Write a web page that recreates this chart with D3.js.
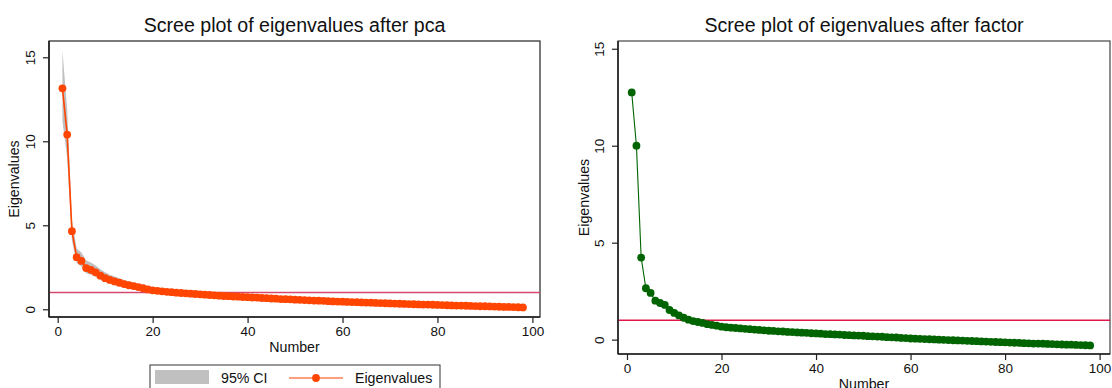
<!DOCTYPE html>
<html>
<head>
<meta charset="utf-8">
<script src="https://cdn.jsdelivr.net/npm/d3@7"></script>
<style>
  html, body { margin: 0; padding: 0; background: #fff; }
  svg { display: block; font-family: "Liberation Sans", Arial, sans-serif; }
</style>
</head>
<body>
<div id="chart"></div>
<script>
// Eigenvalues after pca, components 1..98
const pcaEigen = [
  13.15, 10.4, 4.65, 3.1, 2.88, 2.45, 2.35, 2.2, 2.0, 1.85,
  1.75, 1.66, 1.58, 1.5, 1.43, 1.38, 1.32, 1.25, 1.18, 1.13,
  1.10, 1.07, 1.04, 1.02, 0.99, 0.97, 0.95, 0.93, 0.91, 0.89,
  0.87, 0.85, 0.83, 0.81, 0.79, 0.78, 0.76, 0.75, 0.73, 0.72,
  0.70, 0.69, 0.67, 0.66, 0.64, 0.63, 0.61, 0.60, 0.59, 0.57,
  0.56, 0.55, 0.53, 0.52, 0.51, 0.50, 0.48, 0.47, 0.46, 0.45,
  0.44, 0.43, 0.42, 0.41, 0.40, 0.39, 0.38, 0.37, 0.36, 0.35,
  0.34, 0.33, 0.32, 0.31, 0.30, 0.29, 0.28, 0.28, 0.27, 0.26,
  0.25, 0.24, 0.23, 0.22, 0.22, 0.21, 0.20, 0.19, 0.18, 0.18,
  0.17, 0.16, 0.15, 0.14, 0.14, 0.13, 0.12, 0.11
];

// 95% CI band (visible part, first 20 components)
const pcaCiLow  = [11.2, 9.0, 4.1, 2.75, 2.55, 2.15, 2.05, 1.93, 1.76, 1.62,
                   1.53, 1.45, 1.38, 1.31, 1.25, 1.2, 1.15, 1.09, 1.03, 0.98];
const pcaCiHigh = [15.4, 11.9, 5.3, 3.62, 3.38, 2.9, 2.78, 2.6, 2.38, 2.2,
                   2.06, 1.95, 1.85, 1.75, 1.66, 1.59, 1.51, 1.43, 1.35, 1.29];

// Eigenvalues after factor, factors 1..98
const factorEigen = [
  12.75, 10.0, 4.23, 2.65, 2.41, 2.01, 1.89, 1.79, 1.53, 1.38,
  1.25, 1.13, 1.03, 0.96, 0.91, 0.86, 0.80, 0.76, 0.72, 0.67,
  0.64, 0.62, 0.60, 0.58, 0.56, 0.54, 0.52, 0.50, 0.48, 0.46,
  0.45, 0.43, 0.42, 0.40, 0.39, 0.37, 0.36, 0.35, 0.33, 0.32,
  0.31, 0.29, 0.28, 0.27, 0.26, 0.24, 0.23, 0.22, 0.21, 0.20,
  0.18, 0.17, 0.16, 0.15, 0.13, 0.12, 0.11, 0.09, 0.08, 0.06,
  0.05, 0.04, 0.03, 0.02, 0.01, 0.00, -0.01, -0.02, -0.03, -0.04,
  -0.05, -0.06, -0.07, -0.08, -0.09, -0.10, -0.11, -0.12, -0.13, -0.14,
  -0.15, -0.16, -0.17, -0.18, -0.19, -0.20, -0.20, -0.21, -0.22, -0.23,
  -0.24, -0.25, -0.26, -0.26, -0.27, -0.28, -0.29, -0.30
];

const xTicks = [0, 20, 40, 60, 80, 100];
const yTicks = [0, 5, 10, 15];
const refLine = 1;

const width = 1112, height = 388;

const svg = d3.select('#chart').append('svg')
  .attr('width', width)
  .attr('height', height);

/**
 * Draw one scree panel
 */
function drawPanel(opt) {
  const { frame, xDomain, yDomain } = opt;
  const x = d3.scaleLinear().domain(xDomain).range([frame.x0, frame.x1]);
  const y = d3.scaleLinear().domain(yDomain).range([frame.y1, frame.y0]);
  const g = svg.append('g');

  // plot region border
  g.append('rect')
    .attr('x', frame.x0).attr('y', frame.y0)
    .attr('width', frame.x1 - frame.x0).attr('height', frame.y1 - frame.y0)
    .attr('fill', 'none')
    .attr('stroke', opt.frameColor)
    .attr('stroke-width', 1.2);

  // CI band
  if (opt.ciLow) {
    const area = d3.area()
      .x((d, i) => x(i + 1))
      .y0(d => y(d[0]))
      .y1(d => y(d[1]));
    g.append('path')
      .datum(opt.ciLow.map((v, i) => [v, opt.ciHigh[i]]))
      .attr('d', area)
      .attr('fill', '#c0c0c0');
  }

  // reference line at 1
  g.append('line')
    .attr('x1', frame.x0).attr('x2', frame.x1)
    .attr('y1', y(refLine)).attr('y2', y(refLine))
    .attr('stroke', opt.refColor)
    .attr('stroke-width', 1.5);

  // line + markers
  const line = d3.line().x((d, i) => x(i + 1)).y(d => y(d));
  g.append('path')
    .datum(opt.values)
    .attr('d', line)
    .attr('fill', 'none')
    .attr('stroke', opt.color)
    .attr('stroke-width', opt.lineWidth);

  g.selectAll('circle.pt')
    .data(opt.values)
    .enter().append('circle')
    .attr('class', 'pt')
    .attr('cx', (d, i) => x(i + 1))
    .attr('cy', d => y(d))
    .attr('r', 3.9)
    .attr('fill', opt.color);

  // left and bottom axis lines (heavier)
  g.append('line')
    .attr('x1', frame.x0).attr('x2', frame.x0)
    .attr('y1', frame.y0).attr('y2', frame.y1)
    .attr('stroke', '#222').attr('stroke-width', 1.6);
  g.append('line')
    .attr('x1', frame.x0).attr('x2', frame.x1)
    .attr('y1', frame.y1).attr('y2', frame.y1)
    .attr('stroke', '#222').attr('stroke-width', 1.6);

  // y axis
  const yAxis = g.append('g')
    .attr('transform', `translate(${frame.x0},0)`)
    .call(d3.axisLeft(y).tickValues(yTicks).tickSize(6).tickFormat(d3.format('d')));
  yAxis.select('.domain').remove();
  yAxis.selectAll('.tick line').attr('stroke', '#222').attr('stroke-width', 1.2);
  yAxis.selectAll('.tick text')
    .attr('x', 0).attr('y', 0).attr('dy', 0)
    .attr('transform', 'translate(-14,0) rotate(-90)')
    .attr('text-anchor', 'middle')
    .style('font-size', '13.5px')
    .style('font-family', '"Liberation Sans", Arial, sans-serif')
    .attr('fill', '#111');

  // x axis
  const xAxis = g.append('g')
    .attr('transform', `translate(0,${frame.y1})`)
    .call(d3.axisBottom(x).tickValues(xTicks).tickSize(6).tickFormat(d3.format('d')));
  xAxis.select('.domain').remove();
  xAxis.selectAll('.tick line').attr('stroke', '#222').attr('stroke-width', 1.2);
  xAxis.selectAll('.tick text')
    .attr('y', 9).attr('dy', '0.71em')
    .style('font-size', '13.5px')
    .style('font-family', '"Liberation Sans", Arial, sans-serif')
    .attr('fill', '#111');

  // titles
  const cx = (frame.x0 + frame.x1) / 2;
  g.append('text')
    .attr('x', cx).attr('y', 32)
    .attr('text-anchor', 'middle')
    .style('font-size', '19.6px')
    .attr('fill', '#111')
    .text(opt.title);

  g.append('text')
    .attr('x', cx).attr('y', frame.y1 + 35)
    .attr('text-anchor', 'middle')
    .style('font-size', '14.2px')
    .attr('fill', '#111')
    .text('Number');

  g.append('text')
    .attr('transform', `translate(${opt.yLabelX},${(frame.y0 + frame.y1) / 2}) rotate(-90)`)
    .attr('text-anchor', 'middle')
    .style('font-size', '14.2px')
    .attr('fill', '#111')
    .text('Eigenvalues');
}

drawPanel({
  title: 'Scree plot of eigenvalues after pca',
  frame: { x0: 49, x1: 540, y0: 41, y1: 317 },
  xDomain: [-1.83, 101.6],
  yDomain: [-0.46, 15.97],
  values: pcaEigen,
  ciLow: pcaCiLow,
  ciHigh: pcaCiHigh,
  color: '#ff4500',
  lineWidth: 1.6,
  refColor: '#d6496f',
  frameColor: '#222',
  yLabelX: 19
});

drawPanel({
  title: 'Scree plot of eigenvalues after factor',
  frame: { x0: 618, x1: 1110, y0: 41, y1: 354 },
  xDomain: [-1.9, 102.2],
  yDomain: [-0.74, 15.4],
  values: factorEigen,
  color: '#006400',
  lineWidth: 1.1,
  refColor: '#e0184a',
  frameColor: '#444',
  yLabelX: 589
});

// legend (left panel)
const legend = svg.append('g');
legend.append('rect')
  .attr('x', 150).attr('y', 365).attr('width', 290).attr('height', 30)
  .attr('fill', '#fff').attr('stroke', '#333').attr('stroke-width', 1);
legend.append('rect')
  .attr('x', 155).attr('y', 370).attr('width', 54).attr('height', 14)
  .attr('fill', '#c0c0c0');
legend.append('text')
  .attr('x', 221).attr('y', 383)
  .style('font-size', '14.2px').attr('fill', '#111')
  .text('95% CI');
legend.append('line')
  .attr('x1', 289).attr('x2', 343).attr('y1', 378).attr('y2', 378)
  .attr('stroke', '#ff7f50').attr('stroke-width', 1.6);
legend.append('circle')
  .attr('cx', 316).attr('cy', 378).attr('r', 3.9)
  .attr('fill', '#ff4500');
legend.append('text')
  .attr('x', 355).attr('y', 383)
  .style('font-size', '14.2px').attr('fill', '#111')
  .text('Eigenvalues');
</script>
</body>
</html>
